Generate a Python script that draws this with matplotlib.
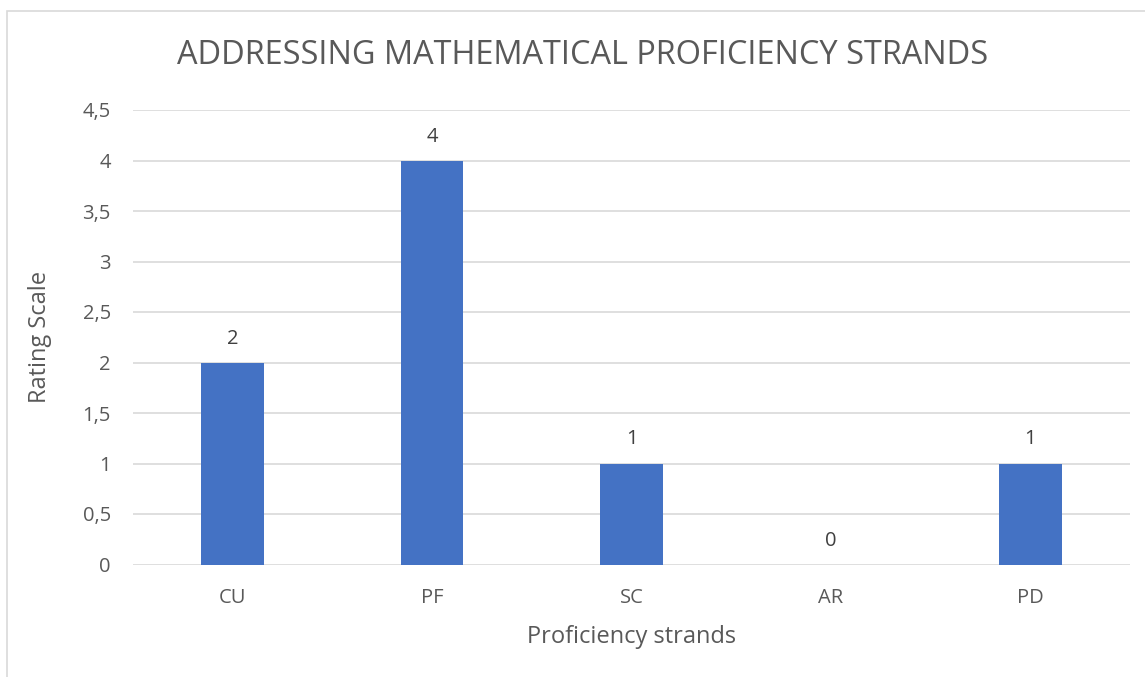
import matplotlib.pyplot as plt
from matplotlib.patches import Rectangle

categories = ['CU', 'PF', 'SC', 'AR', 'PD']
ratings = [2, 4, 1, 0, 1]
yticks = [0, 0.5, 1, 1.5, 2, 2.5, 3, 3.5, 4, 4.5]

plt.rcParams['font.family'] = ['Open Sans', 'DejaVu Sans']
grey = '#595959'

fig = plt.figure(figsize=(11.45, 6.77), dpi=100)
fig.patches.append(Rectangle((7 / 1145, -0.1), 1.2, 1 - 11 / 677 + 0.1,
                             transform=fig.transFigure, fill=False,
                             edgecolor='#d9d9d9', linewidth=1.2))

ax = fig.add_axes([133 / 1145, 1 - 564.5 / 677, 997 / 1145, 454.5 / 677])
x = list(range(len(categories)))
ax.bar(x, ratings, width=0.314, color='#4472c4', zorder=3)
ax.set_xlim(-0.5, len(categories) - 0.5)
ax.set_ylim(0, 4.5)
ax.set_yticks(yticks)
ax.set_yticklabels([('%g' % v).replace('.', ',') for v in yticks])
ax.set_xticks(x)
ax.set_xticklabels(categories)
ax.tick_params(length=0, labelsize=14.5, colors=grey)
ax.tick_params(axis='y', pad=16)
ax.tick_params(axis='x', pad=17)
ax.grid(axis='y', color='#d9d9d9', linewidth=1.2, zorder=0)
for s in ax.spines.values():
    s.set_visible(False)

for xi, v in zip(x, ratings):
    ax.annotate(str(v), (xi, v), xytext=(0, 24), textcoords='offset pixels',
                ha='center', va='center', fontsize=14.5, color='#404040')

ax.set_xlabel('Proficiency strands', fontsize=17, color=grey, labelpad=12)
ax.set_ylabel('Rating Scale', fontsize=17, color=grey, labelpad=22)

fig.text(583 / 1145, 1 - 56 / 677, 'ADDRESSING MATHEMATICAL PROFICIENCY STRANDS',
         ha='center', va='center', fontsize=23.4, color=grey)

fig.savefig('out.png', dpi=100)
